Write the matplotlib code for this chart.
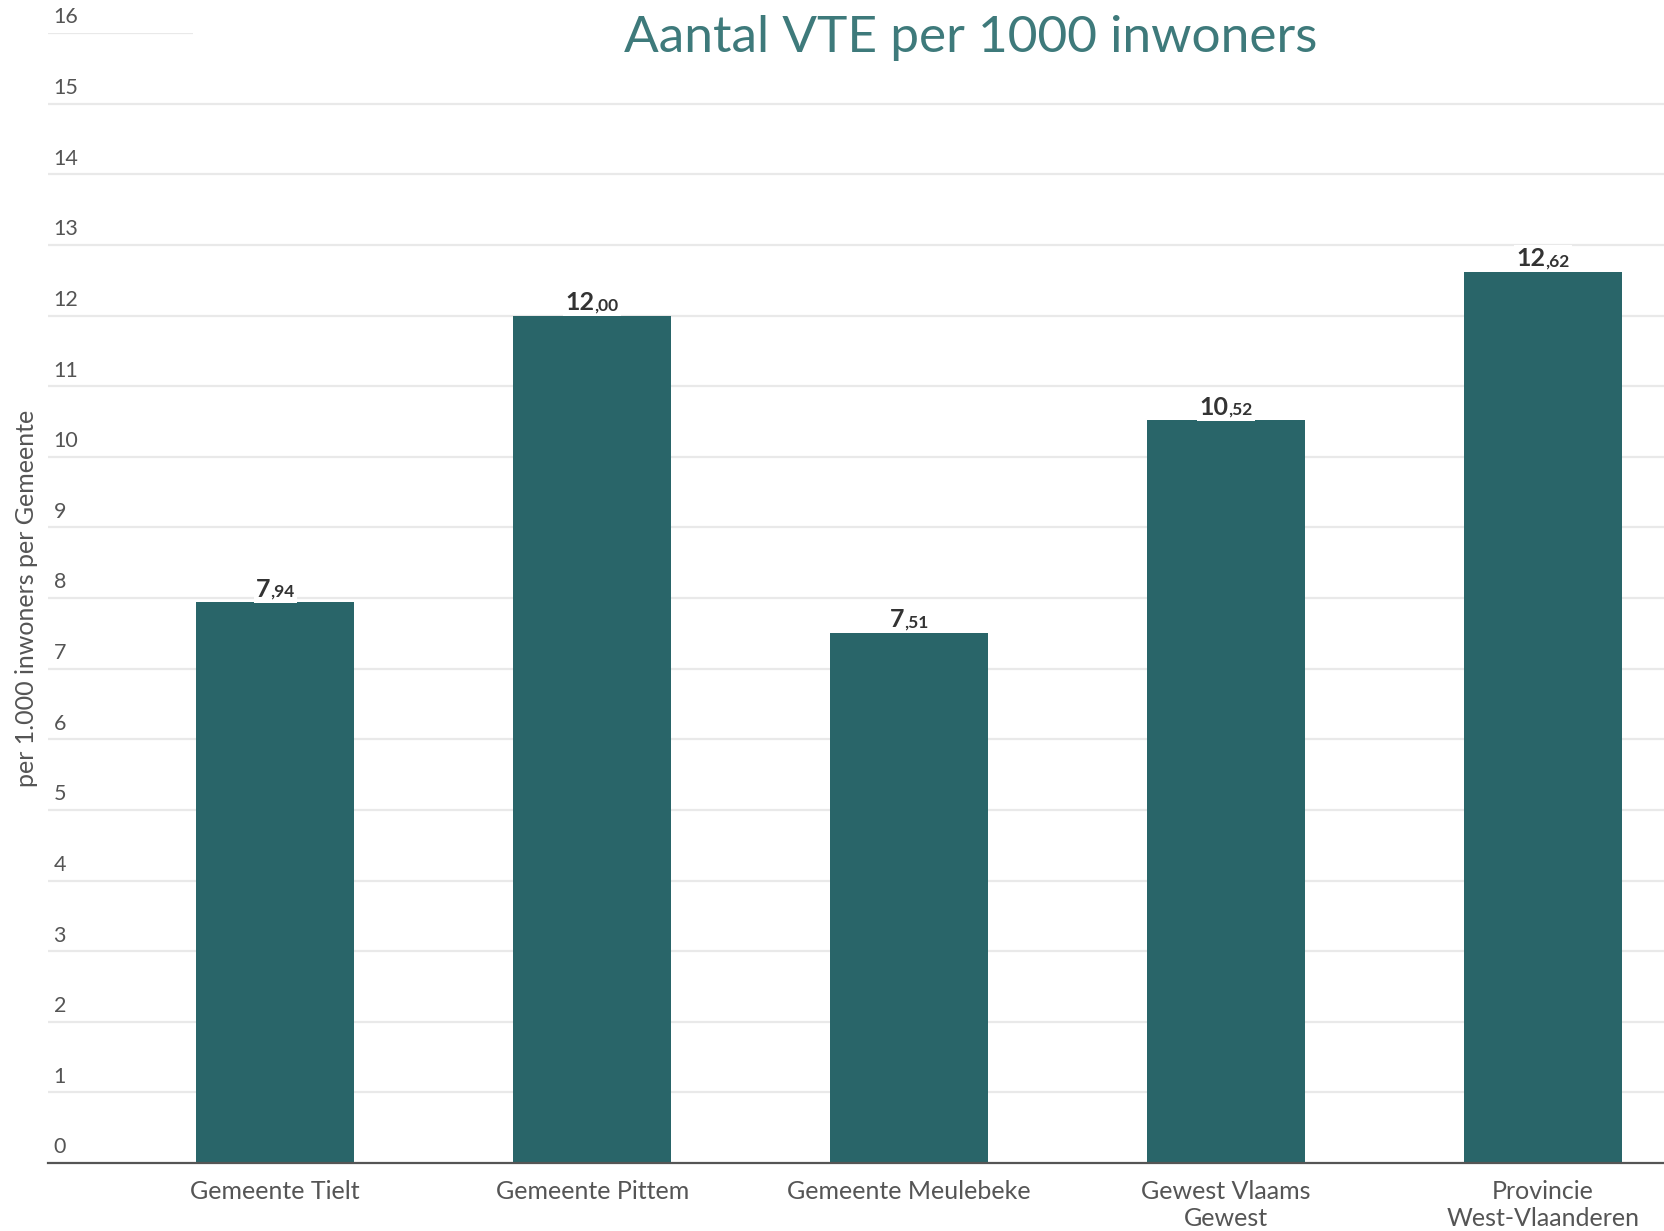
import matplotlib as mpl
import matplotlib.pyplot as plt
from matplotlib.offsetbox import TextArea, HPacker, AnnotationBbox
from matplotlib.patches import Rectangle

mpl.rcParams["font.family"] = ["Lato", "DejaVu Sans"]

categories = [
    "Gemeente Tielt",
    "Gemeente Pittem",
    "Gemeente Meulebeke",
    "Gewest Vlaams\nGewest",
    "Provincie\nWest-Vlaanderen",
]
values = [7.94, 12.00, 7.51, 10.52, 12.62]
y_ticks = list(range(0, 17))

title = "Aantal VTE per 1000 inwoners"
y_label = "per 1.000 inwoners per Gemeente"

bar_color = "#296569"
grid_color = "#e9e9e9"
text_color = "#555555"

fig = plt.figure(figsize=(16.65, 12.31), dpi=100)
ax = fig.add_axes([0.0288, 0.0552, 0.9712, 0.918])

x = list(range(len(categories)))
ax.bar(x, values, width=0.5, color=bar_color, zorder=3)

ax.set_xlim(-0.717, 4.385)
ax.set_ylim(0, 16)

# horizontal gridlines, labels sit just above each line inside the plot
for v in y_ticks[1:]:
    ax.axhline(v, color=grid_color, lw=1.6, zorder=1)
for v in y_ticks:
    ax.annotate(str(v), xy=(0, v), xycoords=("axes fraction", "data"),
                xytext=(4, 4), textcoords="offset points",
                ha="left", va="bottom", fontsize=15.5, color=text_color)

ax.set_yticks([])
ax.set_xticks(x)
ax.set_xticklabels(categories, fontsize=18, color=text_color, linespacing=1.2)
ax.tick_params(axis="x", length=0, pad=12)

for side in ["top", "right", "left"]:
    ax.spines[side].set_visible(False)
ax.spines["bottom"].set_color("#555555")
ax.spines["bottom"].set_linewidth(1.6)
ax.spines["bottom"].set_zorder(4)

# value labels: bold integer part with a smaller decimal part
for xi, v in zip(x, values):
    whole, frac = f"{v:.2f}".split(".")
    big = TextArea(whole, textprops=dict(fontsize=18, fontweight="bold", color="#333333"))
    small = TextArea("," + frac, textprops=dict(fontsize=12.5, fontweight="bold", color="#333333"))
    box = HPacker(children=[big, small], align="baseline", pad=0, sep=0)
    ab = AnnotationBbox(box, (xi, v), xybox=(0, 1), xycoords="data",
                        boxcoords="offset points", box_alignment=(0.5, 0),
                        frameon=True, pad=0.15,
                        bboxprops=dict(facecolor="white", edgecolor="none"))
    ab.set_zorder(5)
    ax.add_artist(ab)

fig.text(0.016, 0.514, y_label, rotation=90, ha="center", va="center",
         fontsize=18, color=text_color)

# white band behind the title
fig.patches.append(Rectangle((0.116, 0.94), 0.9, 0.07, transform=fig.transFigure,
                             facecolor="white", edgecolor="none", zorder=10))
fig.text(0.583, 0.969, title, ha="center", va="center", fontsize=37,
         color="#3e7a7b", zorder=11)

fig.savefig("out.png", dpi=100)
